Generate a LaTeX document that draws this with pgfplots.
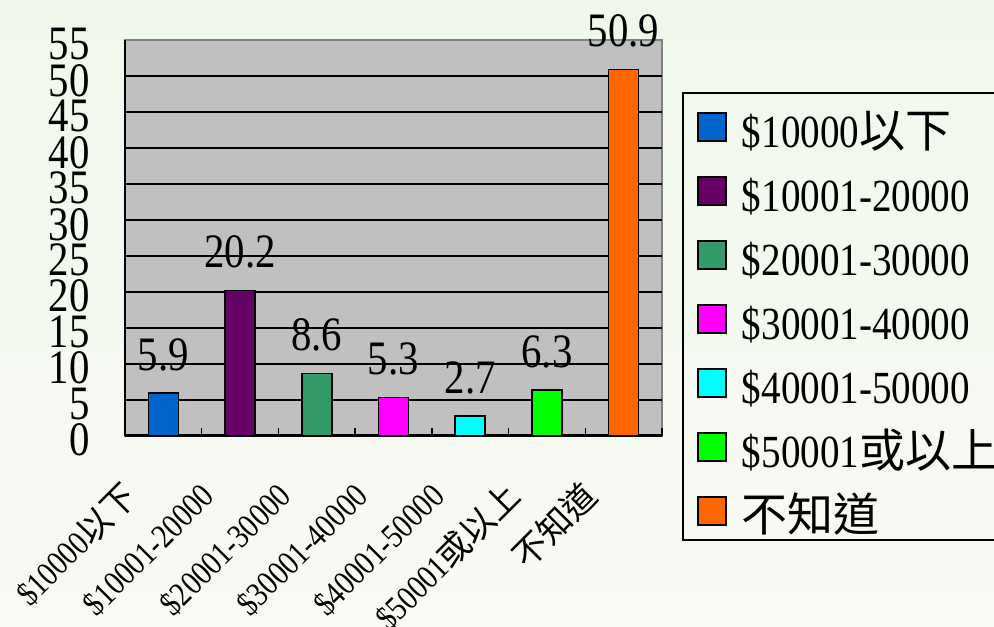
\documentclass[border=0pt]{standalone}
\usepackage{fontspec}
\setmainfont[FakeStretch=0.85]{Liberation Serif}
\newfontfamily\cjk{Noto Sans CJK TC}
\usepackage{pgfplots}
\pgfplotsset{compat=1.18}
\definecolor{bgtop}{RGB}{240,248,235}
\definecolor{bgbot}{RGB}{248,250,245}
\definecolor{plotbg}{RGB}{192,192,192}
\definecolor{bordergray}{RGB}{128,128,128}
\definecolor{c1}{HTML}{0066CC}
\definecolor{c2}{HTML}{660066}
\definecolor{c3}{HTML}{339966}
\definecolor{c4}{HTML}{FF00FF}
\definecolor{c5}{HTML}{00FFFF}
\definecolor{c6}{HTML}{00FF00}
\definecolor{c7}{HTML}{FF6600}
\pgfplotsset{
  mybar/.style={ybar, bar width=15pt, bar shift=0pt, fill=#1, draw=black, line width=0.75pt,
    nodes near coords,
    nodes near coords style={font=\fontsize{24}{24}\selectfont, anchor=base, yshift=11.5pt, inner sep=0pt, text=black},
    legend image code/.code={\draw[fill=#1, draw=black, line width=0.75pt] (0pt,3pt) rectangle (14pt,17pt);}},
}
\begin{document}
\begin{tikzpicture}
\shade[top color=bgtop, bottom color=bgbot] (0,0) rectangle (497pt,-313pt);
\begin{axis}[
  at={(62.5pt,-217.75pt)}, anchor=south west,
  width=268.5pt, height=197.75pt, scale only axis,
  xmin=-0.5, xmax=6.5, ymin=0, ymax=55,
  clip=false,
  axis lines*=left,
  axis line style={line width=1.25pt, black},
  axis background/.style={fill=plotbg, draw=bordergray, line width=1pt},
  ytick={0,5,...,50},
  extra y ticks={55},
  extra y tick style={grid=none},
  ymajorgrids,
  major grid style={black, line width=1pt},
  xtick={0,...,6},
  minor xtick={0.5,1.5,...,6.5},
  major tick length=0pt,
  minor tick length=4pt,
  minor x tick style={black, line width=0.75pt},
  tick align=inside,
  xticklabels={{\$10000{\cjk 以下}},{\$10001-20000},{\$20001-30000},{\$30001-40000},{\$40001-50000},{\$50001{\cjk 或以上}},{{\cjk 不知道}}},
  /pgf/number format/assume math mode=true,
  yticklabel style={font=\fontsize{24}{24}\selectfont, anchor=east, inner sep=0pt, xshift=-17.5pt, yshift=-2.25pt},
  xticklabel style={font=\fontsize{17}{17}\selectfont, inner sep=0pt, text height=12pt, text depth=3pt, xshift=-15pt, yshift=-28pt, rotate=45, anchor=east},
  legend style={at={(axis description cs:1.0652,0.826)}, anchor=north west, draw=none, fill=none, inner sep=0pt,
    font=\fontsize{23}{23}\selectfont, row sep=7pt, column sep=7.5pt,
    nodes={inner sep=0pt, text height=19pt, text depth=6pt, anchor=base west}},
  legend cell align=left,
]
\addplot[mybar=c1] coordinates {(0,5.9)};
\addplot[mybar=c2] coordinates {(1,20.2)};
\addplot[mybar=c3] coordinates {(2,8.6)};
\addplot[mybar=c4] coordinates {(3,5.3)};
\addplot[mybar=c5] coordinates {(4,2.7)};
\addplot[mybar=c6] coordinates {(5,6.3)};
\addplot[mybar=c7] coordinates {(6,50.9)};
\legend{{\$10000{\cjk 以下}},{\$10001-20000},{\$20001-30000},{\$30001-40000},{\$40001-50000},{\$50001{\cjk 或以上}},{{\cjk 不知道}}}
\end{axis}
\draw[line width=1pt, black] (341.5pt,-46.5pt) rectangle (510pt,-270pt);
\pgfresetboundingbox
\useasboundingbox (0,0) rectangle (497pt,-313pt);
\end{tikzpicture}
\end{document}
